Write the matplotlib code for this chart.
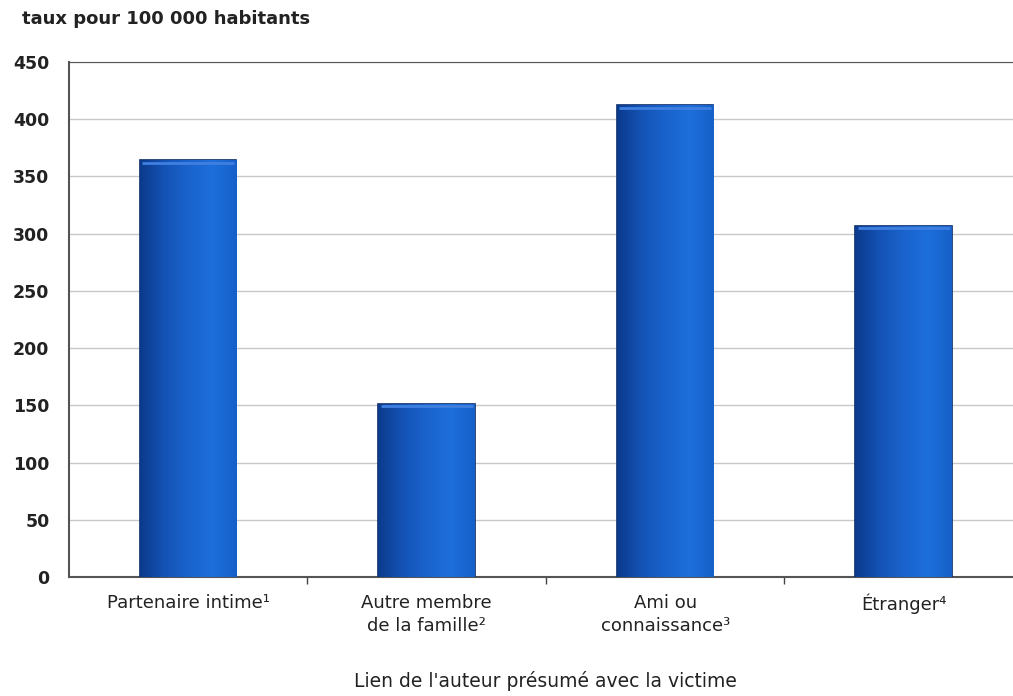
import numpy as np
import matplotlib.pyplot as plt
from matplotlib.colors import LinearSegmentedColormap

# Data
categories = ["Partenaire intime\u00b9", "Autre membre\nde la famille\u00b2",
              "Ami ou\nconnaissance\u00b3", "\u00c9tranger\u2074"]
rates = [364, 151, 412, 307]
yticks = [0, 50, 100, 150, 200, 250, 300, 350, 400, 450]

fig = plt.figure(figsize=(10.13, 6.96), dpi=100)
# plot area runs a little past the right edge of the image, as in the original
ax = fig.add_axes([0.068, 0.171, 0.9418, 0.74])

x = np.arange(len(categories))
bars = ax.bar(x, rates, width=0.405, color="#1558c0", edgecolor="#0b2a66",
              linewidth=1.2, zorder=3)

# horizontal gradient fill inside each bar (dark left -> lighter right)
cmap = LinearSegmentedColormap.from_list(
    "bluebar", ["#0b3a8c", "#1452b4", "#1a63cc", "#1d6fdc", "#1660c8"])
grad = np.linspace(0, 1, 256).reshape(1, -1)
for b in bars:
    x0, w, h = b.get_x(), b.get_width(), b.get_height()
    im = ax.imshow(grad, cmap=cmap, aspect="auto", extent=(x0, x0 + w, 0, h),
                   zorder=3.5)
    im.set_clip_path(b)
    ax.plot([x0 + 0.01, x0 + w - 0.01], [h - 2, h - 2], color="#3f7fe0",
            lw=2, zorder=4, solid_capstyle="butt")

ax.set_xlim(-0.5, len(categories) - 0.5)
ax.set_ylim(0, 450)
ax.set_yticks(yticks)
ax.set_yticklabels([str(v) for v in yticks], fontsize=12.5, fontweight="bold",
                   color="#222222")
ax.tick_params(axis="y", length=0, pad=14)

ax.set_xticks(x)
ax.set_xticklabels(categories, fontsize=13, color="#222222", linespacing=1.35)
ax.tick_params(axis="x", which="major", length=0, pad=12)
ax.set_xticks(np.arange(len(categories) - 1) + 0.5, minor=True)
ax.tick_params(axis="x", which="minor", length=5, direction="out",
               color="#444444", width=1)

ax.grid(axis="y", color="#c8c8c8", linewidth=1, zorder=0)
ax.set_axisbelow(True)

ax.spines["right"].set_visible(False)
ax.spines["top"].set_color("#555555")
ax.spines["left"].set_color("#555555")
ax.spines["bottom"].set_color("#555555")
ax.spines["left"].set_linewidth(1.5)
ax.spines["bottom"].set_linewidth(1.5)

fig.text(0.022, 0.972, "taux pour 100 000 habitants", fontsize=13,
         fontweight="bold", color="#222222", va="center")
ax.set_xlabel("Lien de l'auteur pr\u00e9sum\u00e9 avec la victime", fontsize=13.5,
              color="#222222", labelpad=26)

plt.savefig("out.png", dpi=100)
